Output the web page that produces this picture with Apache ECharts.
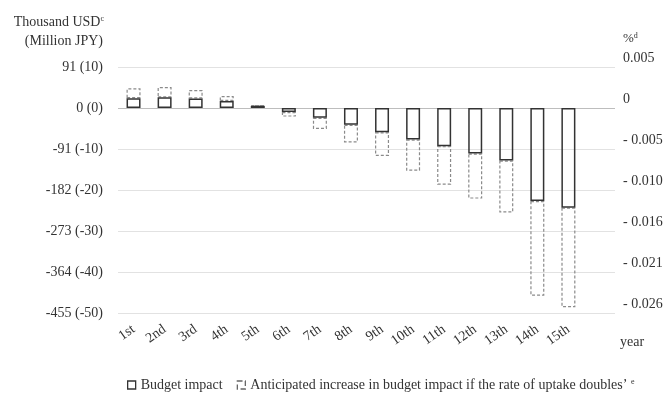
<!DOCTYPE html>
<html>
<head>
<meta charset="utf-8">
<script src="https://cdn.jsdelivr.net/npm/echarts@6/dist/echarts.min.js"></script>
<style>
html,body{margin:0;padding:0;background:#fff;}
#chart{width:667px;height:393px;}
</style>
</head>
<body>
<div id="chart"></div>
<script>
// Data (Million JPY)
const years = ['1st','2nd','3rd','4th','5th','6th','7th','8th','9th','10th','11th','12th','13th','14th','15th'];
const budgetImpact = [2.4, 2.6, 2.3, 1.7, 0.5, -1.0, -2.4, -4.1, -5.9, -7.7, -9.3, -11.1, -12.8, -22.7, -24.3];
const increaseIfDoubles = [2.4, 2.5, 2.1, 1.2, 0.2, -1.1, -2.7, -4.3, -5.8, -7.6, -9.4, -11.0, -12.7, -23.1, -24.3];
const leftTickValues = [-50, -40, -30, -20, -10, 0, 10];
const leftTickLabels = ['-455 (-50)', '-364 (-40)', '-273 (-30)', '-182 (-20)', '-91 (-10)', '0 (0)', '91 (10)'];
const rightTickLabels = ['- 0.026', '- 0.021', '- 0.016', '- 0.010', '- 0.005', '0', '0.005'];

const FONT = 'Liberation Serif';
const chart = echarts.init(document.getElementById('chart'), null, {renderer: 'canvas'});

function lab(arr) {
  return function (v) {
    const i = leftTickValues.indexOf(Math.round(v));
    return i >= 0 ? arr[i] : '';
  };
}

const option = {
  backgroundColor: '#fff',
  animation: false,
  textStyle: {fontFamily: FONT},
  grid: {left: 118, right: 52, top: 67, bottom: 80},
  legend: {
    left: 122, top: 373,
    itemWidth: 8, itemHeight: 8, itemGap: 14,
    icon: 'rect',
    textStyle: {fontFamily: FONT, fontSize: 14, color: '#333',
      rich: {sup: {fontSize: 8, verticalAlign: 'top', fontFamily: FONT, color: '#333', padding: [0,0,6,0]}}},
    formatter: function (name) {
      return name.indexOf('Anticipated') === 0 ? name + ' {sup|e}' : name;
    },
    data: [
      {name: 'Budget impact', itemStyle: {color: '#fff', borderColor: '#333', borderWidth: 1.3}},
      {name: 'Anticipated increase in budget impact if the rate of uptake doubles\u2019', itemStyle: {color: '#fff', borderColor: '#666', borderWidth: 1.3, borderType: 'dashed'}}
    ]
  },
  xAxis: {
    type: 'category',
    data: years.concat(['']),
    axisLine: {show: false, onZero: false},
    axisTick: {show: false},
    axisLabel: {interval: 0, rotate: 35, margin: 15, fontFamily: FONT, fontSize: 14, color: '#333'}
  },
  yAxis: [
    {
      type: 'value', min: -50, max: 10, interval: 10,
      axisLine: {show: false}, axisTick: {show: false},
      axisLabel: {margin: 15, fontFamily: FONT, fontSize: 14, color: '#333', formatter: lab(leftTickLabels)},
      splitLine: {lineStyle: {color: ['#e2e2e2','#e2e2e2','#e2e2e2','#e2e2e2','#e2e2e2','#bdbdbd','#e2e2e2'], width: 1}}
    },
    {
      type: 'value', min: -50, max: 10, interval: 10, position: 'right',
      axisLine: {show: false}, axisTick: {show: false},
      axisLabel: {margin: 8, fontFamily: FONT, fontSize: 14, color: '#333', align: 'left',
        verticalAlign: 'bottom', lineHeight: 18, formatter: lab(rightTickLabels)},
      splitLine: {show: false}
    }
  ],
  graphic: [
    {type: 'text', right: 667 - 104, top: 15, style: {text: 'Thousand USD{sup|c}', fontFamily: FONT, fontSize: 14, fill: '#333',
      rich: {sup: {fontSize: 8, verticalAlign: 'top', fontFamily: FONT, fill: '#333', padding: [0,0,6,0]}}}},
    {type: 'text', right: 667 - 103, top: 34, style: {text: '(Million JPY)', fontFamily: FONT, fontSize: 14, fill: '#333'}},
    {type: 'text', left: 623, top: 32, style: {text: '%{sup|d}', fontFamily: FONT, fontSize: 13, fill: '#333',
      rich: {sup: {fontSize: 8, verticalAlign: 'top', fontFamily: FONT, fill: '#333', padding: [0,0,6,0]}}}},
    {type: 'text', left: 620, top: 335, style: {text: 'year', fontFamily: FONT, fontSize: 14, fill: '#333'}}
  ],
  series: [
    {
      name: 'Budget impact', type: 'bar', stack: 'bi', barWidth: 14, z: 3,
      itemStyle: {color: 'rgba(255,255,255,0)', borderColor: '#333', borderWidth: 1.5},
      data: budgetImpact
    },
    {
      name: 'Anticipated increase in budget impact if the rate of uptake doubles\u2019', type: 'bar', stack: 'bi', barWidth: 14, z: 2,
      itemStyle: {color: 'rgba(255,255,255,0)', borderColor: '#8a8a8a', borderWidth: 1.2, borderType: [3, 2]},
      data: increaseIfDoubles
    }
  ]
};
chart.setOption(option);
</script>
</body>
</html>
